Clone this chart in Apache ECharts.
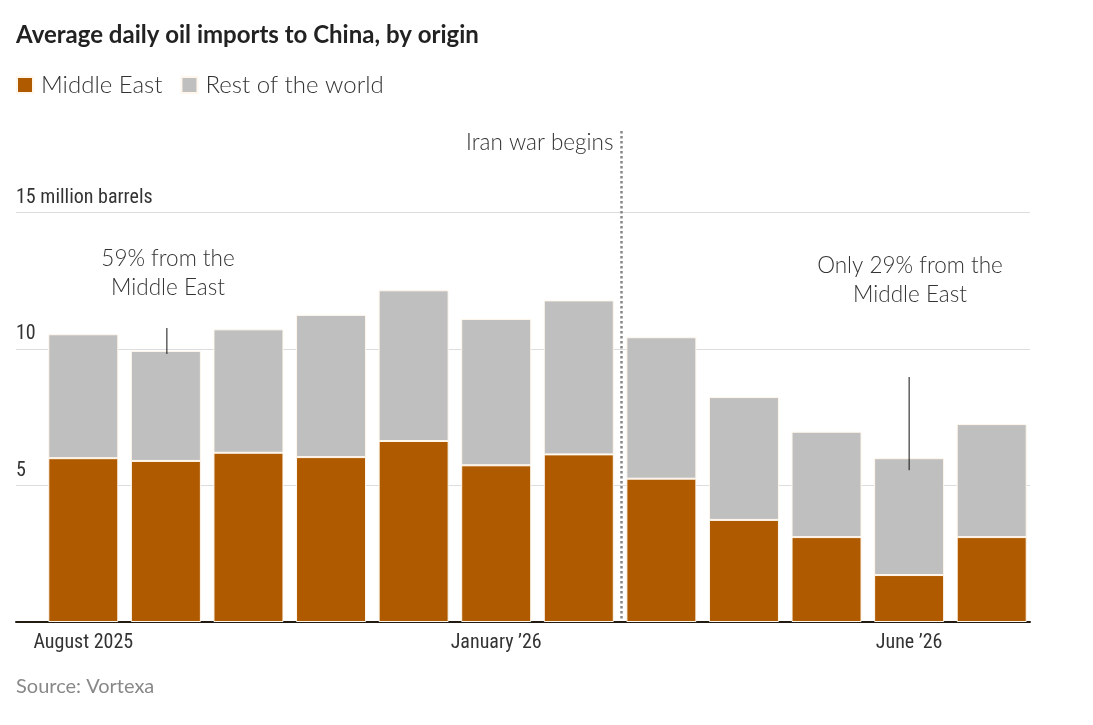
<!DOCTYPE html>
<html><head><meta charset="utf-8">
<script src="https://cdn.jsdelivr.net/npm/echarts@6/dist/echarts.min.js"></script>
<style>html,body{margin:0;padding:0;background:#fff}#c{width:1093px;height:725px}</style>
</head><body><div id="c"></div>
<script>
const months = ["Aug 2025","Sep 2025","Oct 2025","Nov 2025","Dec 2025","Jan 2026","Feb 2026","Mar 2026","Apr 2026","May 2026","Jun 2026","Jul 2026"];
const xTickLabels = ["August 2025","","","","","January \u201926","","","","","June \u201926",""];
const middleEast = [6.00,5.90,6.20,6.04,6.63,5.74,6.14,5.25,3.74,3.11,1.72,3.11];
const restOfWorld = [4.54,4.03,4.52,5.21,5.52,5.36,5.64,5.18,4.50,3.86,4.28,4.14];
const yTicks = [0,5,10,15];

(function(){
const narrow = "'Liberation Sans Narrow','Roboto Condensed','Roboto',sans-serif";
const body = "Lato,'Noto Sans',sans-serif";
const chart = echarts.init(document.getElementById('c'), null, {renderer:'canvas'});
const gTop = 212.5, gBottom = 103;
chart.setOption({
  animation:false,
  backgroundColor:'#fff',
  title:{text:'Average daily oil imports to China, by origin',left:11,top:18,
    textStyle:{fontFamily:body,fontWeight:'bold',fontSize:24,color:'#222'}},
  legend:{left:11,top:68,icon:'rect',itemWidth:16,itemHeight:16,itemGap:18,
    textStyle:{fontFamily:body,fontWeight:300,fontSize:24,color:'#333',padding:[0,0,0,3]},
    data:['Middle East','Rest of the world']},
  grid:[
    {left:42,right:60,top:gTop,bottom:gBottom},
    {left:16,right:63,top:gTop,bottom:gBottom}
  ],
  xAxis:[
    {type:'category',gridIndex:0,data:months,axisLine:{show:false},axisTick:{show:false},
      axisLabel:{interval:0,margin:11,fontFamily:narrow,fontSize:20,color:'#333',
        formatter:(v,i)=>xTickLabels[i]}},
    {type:'value',gridIndex:1,min:0,max:1,axisLine:{show:true,onZero:false,lineStyle:{color:'#231a12',width:2}},
      axisTick:{show:false},axisLabel:{show:false},splitLine:{show:false}}
  ],
  yAxis:[
    {type:'value',gridIndex:0,min:0,max:15,interval:5,axisLine:{show:false},axisTick:{show:false},
      axisLabel:{show:false},splitLine:{show:false}},
    {type:'value',gridIndex:1,min:0,max:15,interval:5,axisLine:{show:false},axisTick:{show:false},
      splitLine:{show:true,lineStyle:{color:'#dddddd',width:1}},
      axisLabel:{inside:true,margin:0,verticalAlign:'bottom',padding:[0,0,5,0],
        fontFamily:narrow,fontSize:20,color:'#333',
        formatter:v=>v===0?'':(v===15?yTicks[3]+' million barrels':String(v))}}
  ],
  series:[
    {name:'Middle East',type:'bar',stack:'t',xAxisIndex:0,yAxisIndex:0,barWidth:70,data:middleEast,
      itemStyle:{color:'#b05a00',borderColor:'#fff7ec',borderWidth:1}},
    {name:'Rest of the world',type:'bar',stack:'t',xAxisIndex:0,yAxisIndex:0,barWidth:70,data:restOfWorld,
      itemStyle:{color:'#bfbfbf',borderColor:'#fff7ec',borderWidth:1}}
  ]
});

const p = (i,v)=>chart.convertToPixel({gridIndex:0},[i,v]);
const warX = Math.round((p(6,0)[0]+p(7,0)[0])/2)+1.5;
const a2 = p(1, middleEast[1]+restOfWorld[1]);
const a11 = p(10, middleEast[10]+restOfWorld[10]);
const ann = {fontFamily:body,fontWeight:300,fontSize:22.5,fill:'#333'};
chart.setOption({graphic:[
  {type:'line',shape:{x1:warX,y1:131,x2:warX,y2:621},z:10,
    style:{stroke:'#888',lineWidth:2.5,lineDash:[2.5,2.5]}},
  {type:'text',x:warX-8,y:143,z:10,style:Object.assign({text:'Iran war begins',align:'right',verticalAlign:'middle'},ann)},
  {type:'text',x:168,y:273,z:10,style:Object.assign({text:'59% from the\nMiddle East',align:'center',verticalAlign:'middle',lineHeight:29},ann)},
  {type:'line',shape:{x1:a2[0]+1,y1:328,x2:a2[0]+1,y2:a2[1]+3},z:10,style:{stroke:'#111',lineWidth:1}},
  {type:'text',x:910,y:280,z:10,style:Object.assign({text:'Only 29% from the\nMiddle East',align:'center',verticalAlign:'middle',lineHeight:29},ann)},
  {type:'line',shape:{x1:a11[0],y1:377,x2:a11[0],y2:a11[1]+12},z:10,style:{stroke:'#111',lineWidth:1}},
  {type:'text',x:16,y:687,style:{text:'Source: Vortexa',verticalAlign:'middle',fontFamily:body,fontSize:20,fill:'#888'}}
]});
})();
</script></body></html>
